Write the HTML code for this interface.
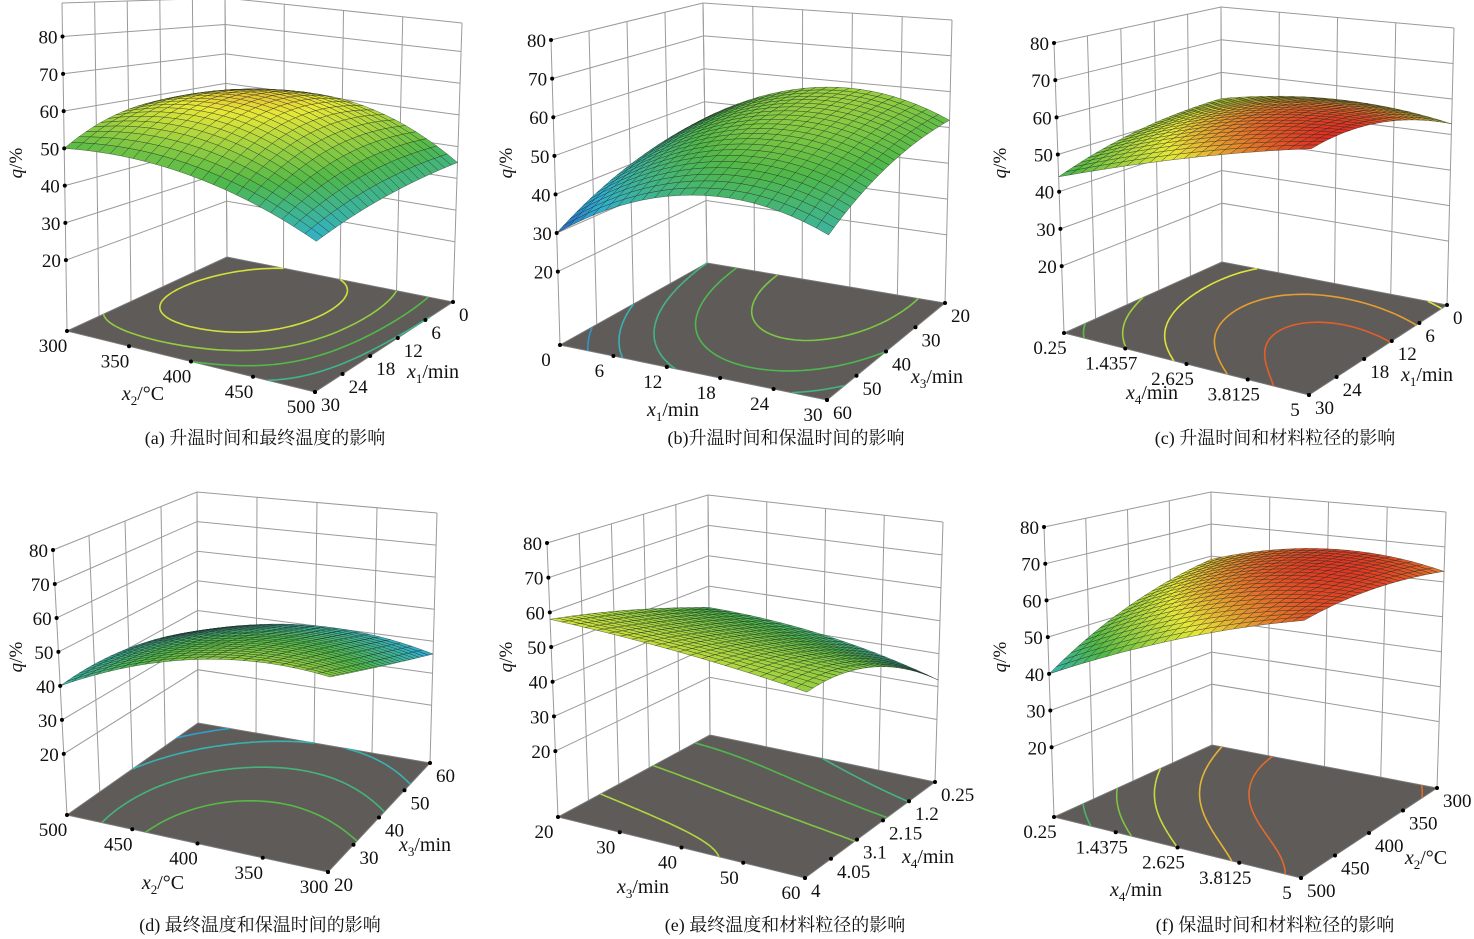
<!DOCTYPE html>
<html><head><meta charset="utf-8">
<style>
html,body{margin:0;padding:0;background:#fff;}
svg{display:block;}
text{font-family:"Liberation Serif","Noto Serif CJK SC",serif;fill:#111;}
</style></head>
<body>
<svg id="fig" width="1474" height="939" viewBox="0 0 1474 939" xmlns="http://www.w3.org/2000/svg"></svg>
<script>
// ---- data: 3x3 response grids (rows u=0,.5,1 ; cols v=0,.5,1) ----
const surfaceA = [[55,60,45],[58,62,44],[50,50,40]];
const surfaceB = [[45,58,52],[40,55,50],[30,46,42]];
const surfaceC = [[52,56,53],[50,60,62],[44,55,63]];
const surfaceD = [[33,40,36],[40,49,46],[40,54,55]];
const surfaceE = [[43,40,32],[52,50,48],[58,56,52]];
const surfaceF = [[59,66,63],[52,64,66],[40,55,65]];
// contour levels
const levelsA = [40,45,50,55,60];
const levelsB = [35,40,45,50,55];
const levelsC = [46,50,54,58,61];
const levelsD = [36,40,45,50];
const levelsE = [40,45,50,55];
const levelsF = [45,50,55,60,64];
// tick labels
const zTickLabels = [20,30,40,50,60,70,80];
const ticksA_left = ["300","350","400","450","500"];
const ticksA_right = ["0","6","12","18","24","30"];
const ticksB_left = ["0","6","12","18","24","30"];
const ticksB_right = ["20","30","40","50","60"];
const ticksC_left = ["0.25","1.4357","2.625","3.8125","5"];
const ticksC_right = ["0","6","12","18","24","30"];
const ticksD_left = ["500","450","400","350","300"];
const ticksD_right = ["60","50","40","30","20"];
const ticksE_left = ["20","30","40","50","60"];
const ticksE_right = ["0.25","1.2","2.15","3.1","4.05","4"];
const ticksF_left = ["0.25","1.4375","2.625","3.8125","5"];
const ticksF_right = ["300","350","400","450","500"];

const panels = [
 {id:'a',grid:surfaceA,levels:levelsA,tl:ticksA_left,tr:ticksA_right,zBot:1,zTop:89,cLo:30,cHi:74,
  B:{b:[227,257],t:[225,-2]},L:{b:[67,331],t:[62,3]},R:{b:[453,302],t:[462,23]},F:{b:[315,392],t:[318,52]},
  xl:{x:143,y:400,v:'x',s:'2',u:'/°C'},xr:{x:433,y:378,v:'x',s:'1',u:'/min'},q:[22,163],cap:{x:265,y:444,t:'(a) 升温时间和最终温度的影响'}},
 {id:'b',grid:surfaceB,levels:levelsB,tl:ticksB_left,tr:ticksB_right,zBot:1,zTop:80,cLo:25,cHi:82,
  B:{b:[707,263],t:[703,3]},L:{b:[560,345],t:[551,40]},R:{b:[945,303],t:[952,20]},F:{b:[827,400],t:[830,82]},
  xl:{x:673,y:416,v:'x',s:'1',u:'/min'},xr:{x:937,y:383,v:'x',s:'3',u:'/min'},q:[512,163],cap:{x:786,y:444,t:'(b)升温时间和保温时间的影响'}},
 {id:'c',grid:surfaceC,levels:levelsC,tl:ticksC_left,tr:ticksC_right,zBot:2,zTop:80,cLo:30,cHi:64,
  B:{b:[1222,262],t:[1221,7]},L:{b:[1064,333],t:[1054,43]},R:{b:[1447,305],t:[1454,28]},F:{b:[1309,395],t:[1312,80]},
  xl:{x:1152,y:399,v:'x',s:'4',u:'/min'},xr:{x:1427,y:381,v:'x',s:'1',u:'/min'},q:[1006,163],cap:{x:1275,y:444,t:'(c) 升温时间和材料粒径的影响'}},
 {id:'d',grid:surfaceD,levels:levelsD,tl:ticksD_left,tr:ticksD_right,zBot:2,zTop:80,cLo:26,cHi:78,
  B:{b:[198,723],t:[197,492]},L:{b:[67,815],t:[53,550]},R:{b:[430,763],t:[437,513]},F:{b:[328,872],t:[331,585]},
  xl:{x:163,y:889,v:'x',s:'2',u:'/°C'},xr:{x:425,y:851,v:'x',s:'3',u:'/min'},q:[22,657],cap:{x:260,y:931,t:'(d) 最终温度和保温时间的影响'}},
 {id:'e',grid:surfaceE,levels:levelsE,tl:ticksE_left,tr:ticksE_right,zBot:1,zTop:80,cLo:20,cHi:76,
  B:{b:[710,735],t:[708,495]},L:{b:[558,817],t:[547,543]},R:{b:[935,782],t:[943,522]},F:{b:[805,878],t:[808,590]},
  xl:{x:643,y:893,v:'x',s:'3',u:'/min'},xr:{x:928,y:863,v:'x',s:'4',u:'/min'},q:[512,657],cap:{x:785,y:931,t:'(e) 最终温度和材料粒径的影响'}},
 {id:'f',grid:surfaceF,levels:levelsF,tl:ticksF_left,tr:ticksF_right,zBot:1,zTop:80,cLo:30,cHi:68,
  B:{b:[1212,745],t:[1211,492]},L:{b:[1054,817],t:[1044,527]},R:{b:[1437,788],t:[1446,512]},F:{b:[1301,878],t:[1305,560]},
  xl:{x:1136,y:896,v:'x',s:'4',u:'/min'},xr:{x:1426,y:864,v:'x',s:'2',u:'/°C'},q:[1006,657],cap:{x:1275,y:931,t:'(f) 保温时间和材料粒径的影响'}}
];

const NS='http://www.w3.org/2000/svg';
const svg=document.getElementById('fig');
function mk(tag,attrs,parent){const e=document.createElementNS(NS,tag);for(const k in attrs)e.setAttribute(k,attrs[k]);(parent||svg).appendChild(e);return e;}
function lag(t){return [2*(t-.5)*(t-1),-4*t*(t-1),2*t*(t-.5)];}
function zAt(g,u,v){const a=lag(u),b=lag(v);let s=0;for(let i=0;i<3;i++)for(let j=0;j<3;j++)s+=a[i]*b[j]*g[i][j];return s;}
function proj(p,u,v,z){
  const w=[(1-u)*(1-v),u*(1-v),(1-u)*v,u*v],C=[p.B,p.L,p.R,p.F];
  let bx=0,by=0,tx=0,ty=0;
  for(let k=0;k<4;k++){bx+=w[k]*C[k].b[0];by+=w[k]*C[k].b[1];tx+=w[k]*C[k].t[0];ty+=w[k]*C[k].t[1];}
  const f=(z-p.zBot)/(p.zTop-p.zBot);
  return [bx+(tx-bx)*f,by+(ty-by)*f];
}
const stops=[[0,[31,47,191]],[0.22,[48,176,208]],[0.45,[80,184,72]],[0.72,[232,232,56]],[1,[224,32,32]]];
function cmap(t){t=Math.max(0,Math.min(1,t));for(let i=1;i<stops.length;i++){if(t<=stops[i][0]){const a=stops[i-1],b=stops[i],f=(t-a[0])/(b[0]-a[0]);return 'rgb('+[0,1,2].map(k=>Math.round(a[1][k]+(b[1][k]-a[1][k])*f)).join(',')+')';}}return 'rgb(224,32,32)';}
function pts(a){return a.map(p=>p[0].toFixed(1)+','+p[1].toFixed(1)).join(' ');}

panels.forEach(p=>{
  const g=mk('g',{});
  
  
  const nL=p.tl.length, nR=p.tr.length;
  const walls=mk('g',{stroke:'#9a9a9a','stroke-width':'1',fill:'none'},g);
  
  
  const zl=[];for(let z=20;z<=p.zTop+0.5;z+=10)zl.push(z);if(zl[zl.length-1]<p.zTop)zl.push(p.zTop);
  zl.forEach(z=>{
    const a=proj(p,0,0,z),b=proj(p,1,0,z),c=proj(p,0,1,z);
    mk('polyline',{points:pts([b,a,c])},walls);
  });
  for(let i=0;i<nR;i++){const u=i/(nR-1);mk('line',{x1:proj(p,u,0,p.zBot)[0],y1:proj(p,u,0,p.zBot)[1],x2:proj(p,u,0,p.zTop)[0],y2:proj(p,u,0,p.zTop)[1]},walls);}
  for(let i=0;i<nL;i++){const v=i/(nL-1);mk('line',{x1:proj(p,0,v,p.zBot)[0],y1:proj(p,0,v,p.zBot)[1],x2:proj(p,0,v,p.zTop)[0],y2:proj(p,0,v,p.zTop)[1]},walls);}
  const floor=mk('polygon',{points:pts([proj(p,0,0,p.zBot),proj(p,1,0,p.zBot),proj(p,1,1,p.zBot),proj(p,0,1,p.zBot)]),fill:'#5f5b59',stroke:'#7a7a7a','stroke-width':'1'},g);
  
  
  const N=48,val=[];
  for(let i=0;i<=N;i++){val.push([]);for(let j=0;j<=N;j++)val[i].push(zAt(p.grid,i/N,j/N));}
  p.levels.forEach(L=>{
    let d='';
    for(let i=0;i<N;i++)for(let j=0;j<N;j++){
      const c=[[i,j],[i+1,j],[i+1,j+1],[i,j+1]];
      const seg=[];
      for(let k=0;k<4;k++){const a=c[k],b=c[(k+1)%4];const va=val[a[0]][a[1]]-L,vb=val[b[0]][b[1]]-L;
        if((va<0)!==(vb<0)){const f=va/(va-vb);seg.push([(a[0]+(b[0]-a[0])*f)/N,(a[1]+(b[1]-a[1])*f)/N]);}}
      for(let k=0;k+1<seg.length;k+=2){const A=proj(p,seg[k][0],seg[k][1],p.zBot),B=proj(p,seg[k+1][0],seg[k+1][1],p.zBot);
        d+='M'+A[0].toFixed(1)+' '+A[1].toFixed(1)+'L'+B[0].toFixed(1)+' '+B[1].toFixed(1);}
    }
    const path=mk('path',{d:d,stroke:cmap((L-p.cLo)/(p.cHi-p.cLo)),'stroke-width':'1.6',fill:'none'},g);
    
    
  });
  const sg=mk('g',{stroke:'#1e2a1e','stroke-width':'0.5','stroke-opacity':'0.7'},g);
  
  
  const M=22,cells=[];
  for(let i=0;i<M;i++)for(let j=0;j<M;j++)cells.push([i,j]);
  cells.sort((a,b)=>(a[0]+a[1])-(b[0]+b[1]));
  cells.forEach(([i,j])=>{
    const u0=i/M,u1=(i+1)/M,v0=j/M,v1=(j+1)/M;
    const zs=[zAt(p.grid,u0,v0),zAt(p.grid,u1,v0),zAt(p.grid,u1,v1),zAt(p.grid,u0,v1)];
    const zm=(zs[0]+zs[1]+zs[2]+zs[3])/4;
    const poly=mk('polygon',{points:pts([proj(p,u0,v0,zs[0]),proj(p,u1,v0,zs[1]),proj(p,u1,v1,zs[2]),proj(p,u0,v1,zs[3])]),fill:cmap((zm-p.cLo)/(p.cHi-p.cLo))},sg);
    
    
  });
  zTickLabels.forEach(z=>{
    const q=proj(p,1,0,z);
    const dot=mk('circle',{cx:q[0],cy:q[1],r:2,fill:'#000'},g);
    
    
    const t=mk('text',{x:q[0]-5,y:q[1]+7,'text-anchor':'end','font-size':'19'},g);t.textContent=z;
    
    
  });
  p.tl.forEach((s,i)=>{
    const q=proj(p,1,i/(nL-1),p.zBot);
    const dot=mk('circle',{cx:q[0],cy:q[1],r:2,fill:'#000'},g);
    
    
    const t=mk('text',{x:q[0]-14,y:q[1]+21,'text-anchor':'middle','font-size':'19'},g);t.textContent=s;
    
    
  });
  p.tr.forEach((s,i)=>{
    const q=proj(p,i/(nR-1),1,p.zBot);
    const dot=mk('circle',{cx:q[0],cy:q[1],r:2,fill:'#000'},g);
    
    
    const t=mk('text',{x:q[0]+6,y:q[1]+19,'text-anchor':'start','font-size':'19'},g);t.textContent=s;
    
    
  });
  [p.xl,p.xr].forEach((a,k)=>{
    const t=mk('text',{x:a.x,y:a.y,'text-anchor':'middle','font-size':'20'},g);
    t.innerHTML='<tspan font-style="italic">'+a.v+'</tspan><tspan font-size="13" dy="5">'+a.s+'</tspan><tspan dy="-5">'+a.u+'</tspan>';
    
    
  });
  const qt=mk('text',{x:p.q[0],y:p.q[1],'text-anchor':'middle','font-size':'19',transform:'rotate(-90 '+p.q[0]+' '+p.q[1]+')'},g);
  qt.innerHTML='<tspan font-style="italic">q</tspan>/%';
  
  
  const cap=mk('text',{x:p.cap.x,y:p.cap.y,'text-anchor':'middle','font-size':'18'},g);
  cap.textContent=p.cap.t;
  
  
});
</script>
</body></html>
